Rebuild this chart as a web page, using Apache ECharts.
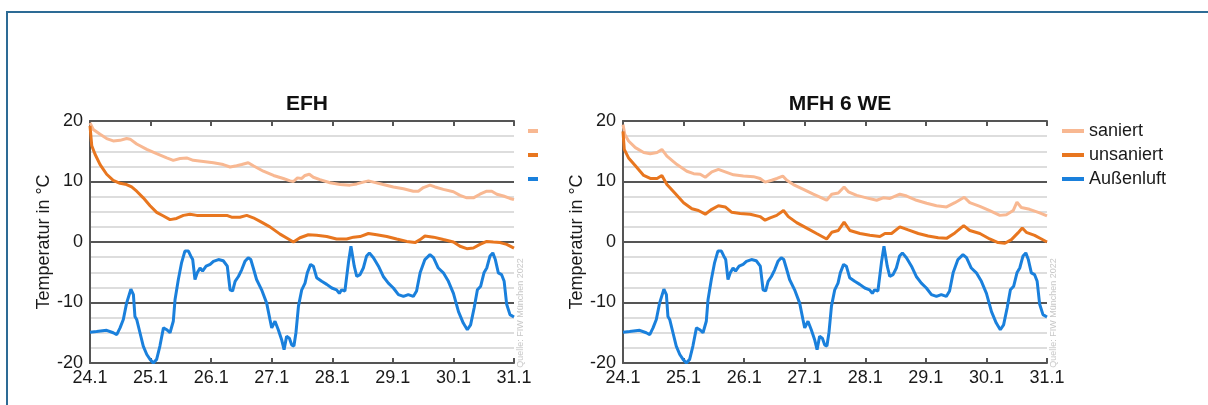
<!DOCTYPE html>
<html>
<head>
<meta charset="utf-8">
<script src="https://cdn.jsdelivr.net/npm/echarts@6/dist/echarts.min.js"></script>
<style>
  html, body { margin: 0; padding: 0; background: #fff; }
  #chart { width: 1208px; height: 405px; }
</style>
</head>
<body>
<div id="chart"></div>
<script>
// x values are hours since 24.1 00:00, y values are temperatures in °C
const dayLabels = ['24.1', '25.1', '26.1', '27.1', '28.1', '29.1', '30.1', '31.1'];
const yTicks = [-20, -10, 0, 10, 20];
const seriesNames = ['saniert', 'unsaniert', 'Außenluft'];
const panelTitles = ['EFH', 'MFH 6 WE'];

// outdoor air (same for both building types)
const aussenluft = [
  [0,-14.9],[2.6,-14.8],[6.6,-14.6],[9.2,-15.0],[10.6,-15.3],[11.9,-14.2],[13.2,-12.8],[14.5,-10.1],
  [16.2,-7.8],[17.2,-8.7],[17.8,-12.3],[18.5,-12.8],[19.8,-15.0],[21.1,-17.2],[22.5,-18.6],[23.8,-19.4],
  [25.1,-20.0],[26.4,-19.4],[27.7,-17.2],[29.1,-14.2],[30.4,-14.5],[31.7,-15.0],[33.0,-13.1],[33.7,-9.5],
  [35.0,-6.2],[36.3,-3.4],[37.6,-1.5],[39.0,-1.5],[39.9,-2.3],[40.7,-2.9],[41.6,-6.2],[42.5,-5.1],
  [43.6,-4.3],[44.6,-4.8],[46.0,-4.0],[47.6,-3.7],[48.9,-3.2],[50.9,-2.9],[52.8,-3.1],[54.4,-4.0],
  [55.5,-7.9],[56.5,-8.1],[57.5,-6.5],[58.8,-5.7],[60.1,-4.6],[61.4,-3.2],[62.7,-2.6],[63.7,-2.9],
  [64.7,-4.3],[66.0,-6.2],[68.0,-7.9],[70.0,-10.1],[71.3,-12.8],[72.0,-14.2],[73.3,-13.1],[74.6,-14.5],
  [75.9,-16.1],[76.9,-17.8],[77.9,-15.6],[79.0,-15.9],[79.9,-17.0],[80.8,-17.2],[81.6,-15.0],[82.6,-10.6],
  [83.9,-7.9],[85.2,-6.8],[86.1,-5.1],[87.4,-3.7],[88.5,-4.0],[89.8,-5.9],[91.8,-6.5],[93.8,-7.0],
  [95.8,-7.6],[97.7,-7.9],[98.8,-8.5],[99.7,-7.9],[101.0,-8.1],[102.4,-3.4],[103.4,-0.7],[104.0,-0.4],
  [104.7,-4.0],[105.7,-5.7],[107.0,-5.4],[108.3,-4.3],[109.6,-2.3],[110.7,-1.8],[112.3,-2.6],[114.3,-4.0],
  [116.2,-5.7],[118.2,-6.8],[120.2,-7.6],[122.2,-8.7],[124.2,-9.0],[126.1,-8.7],[128.1,-9.0],[129.4,-8.1],
  [130.8,-5.1],[132.7,-2.9],[134.7,-2.1],[136.1,-2.6],[138.0,-4.3],[140.0,-5.1],[142.0,-6.5],[144.0,-8.5],
  [146.0,-11.5],[147.9,-13.4],[149.5,-14.5],[150.8,-13.7],[152.2,-10.9],[153.5,-7.9],[154.8,-7.3],[156.1,-5.1],
  [157.2,-4.3],[158.5,-2.3],[159.6,-1.8],[160.6,-2.9],[161.8,-5.1],[163.1,-5.4],[164.1,-6.5],[165.1,-10.3],
  [166.4,-12.0],[168.0,-12.4]
];

// EFH: renovated
const efhSaniert = [
  [0,19.7],[1.3,18.6],[4.0,17.8],[6.6,17.1],[9.2,16.7],[11.9,16.8],[14.5,17.1],[15.9,17.0],
  [18.5,16.2],[22.5,15.3],[26.4,14.6],[30.4,13.9],[33.0,13.5],[35.7,13.8],[38.3,13.9],[40.9,13.5],
  [44.9,13.3],[48.9,13.1],[52.8,12.8],[55.5,12.4],[58.1,12.6],[60.1,12.8],[62.7,13.1],[64.7,12.6],
  [68.7,11.7],[72.7,11.0],[76.6,10.5],[79.3,10.1],[80.6,10.0],[82.2,10.6],[83.9,10.5],[85.2,11.0],
  [86.9,11.2],[88.5,10.7],[91.1,10.3],[95.1,9.8],[99.1,9.5],[103.0,9.4],[105.7,9.6],[108.3,9.9],
  [110.3,10.1],[112.3,9.9],[116.2,9.5],[120.2,9.1],[124.2,8.8],[128.1,8.4],[130.1,8.4],[132.1,9.0],
  [134.7,9.4],[136.7,9.1],[140.0,8.7],[144.0,8.3],[146.6,7.7],[149.3,7.3],[151.9,7.3],[154.5,7.9],
  [157.2,8.4],[159.2,8.4],[161.2,7.9],[163.8,7.6],[166.4,7.2],[168.0,7.0]
];

// EFH: not renovated
const efhUnsaniert = [
  [0,19.2],[0.7,15.9],[2.0,14.5],[4.0,12.8],[6.6,11.2],[9.2,10.2],[11.9,9.7],[14.5,9.5],
  [16.5,9.1],[18.5,8.4],[21.1,7.3],[23.8,6.0],[26.4,4.9],[29.1,4.3],[31.7,3.7],[34.3,3.9],
  [37.0,4.4],[39.6,4.6],[42.3,4.4],[46.2,4.4],[50.2,4.4],[54.2,4.4],[56.1,4.1],[59.4,4.1],
  [62.1,4.4],[64.7,4.0],[67.4,3.4],[71.3,2.5],[75.3,1.3],[78.6,0.5],[80.6,0.0],[83.2,0.7],
  [86.5,1.2],[89.8,1.1],[93.8,0.9],[97.7,0.5],[101.7,0.5],[104.4,0.8],[107.0,0.9],[110.3,1.4],
  [113.6,1.2],[117.6,0.9],[121.5,0.5],[125.5,0.1],[128.8,-0.1],[130.8,0.4],[132.7,1.0],[136.1,0.8],
  [140.0,0.4],[144.0,0.0],[146.6,-0.7],[149.3,-1.1],[151.9,-1.0],[154.5,-0.4],[157.2,0.1],[159.8,0.0],
  [162.5,-0.1],[165.1,-0.4],[168.0,-1.0]
];

// MFH 6 WE: renovated
const mfhSaniert = [
  [0,19.4],[0.7,17.8],[2.2,16.7],[4.9,15.6],[8.2,14.8],[10.8,14.6],[13.5,14.8],[15.4,15.3],
  [17.4,14.2],[21.4,12.8],[25.3,11.7],[28.0,11.3],[30.6,11.2],[32.6,10.7],[35.2,11.6],[37.8,12.0],
  [40.5,11.6],[43.8,11.1],[47.7,10.9],[51.7,10.8],[54.3,10.5],[56.3,9.9],[58.9,10.2],[61.0,10.5],
  [63.3,10.9],[64.9,10.2],[67.5,9.5],[71.5,8.7],[75.4,7.9],[78.7,7.3],[80.7,6.9],[82.7,7.9],
  [85.3,8.1],[87.6,9.1],[89.3,8.3],[92.6,7.7],[96.5,7.3],[100.5,6.9],[103.1,7.3],[105.8,7.2],
  [109.7,7.9],[112.4,7.6],[116.3,6.9],[120.3,6.4],[124.2,6.0],[128.2,5.8],[131.5,6.5],[135.2,7.4],
  [137.4,6.5],[141.4,5.9],[145.3,5.2],[149.3,4.4],[151.9,4.5],[154.6,5.2],[156.1,6.6],[157.8,5.7],
  [161.1,5.4],[165.1,4.8],[168.0,4.3]
];

// MFH 6 WE: not renovated
const mfhUnsaniert = [
  [0,18.3],[0.5,15.3],[2.2,13.9],[4.9,12.6],[8.2,11.0],[10.8,10.5],[13.5,10.5],[15.4,11.0],
  [17.4,9.5],[20.7,8.0],[24.0,6.5],[27.3,5.5],[29.9,5.2],[32.6,4.6],[35.2,5.4],[37.8,6.0],
  [40.5,5.8],[43.1,4.9],[46.4,4.7],[50.4,4.6],[54.3,4.2],[56.3,3.6],[58.3,4.0],[60.9,4.4],
  [63.6,5.2],[65.5,4.2],[68.8,3.2],[72.8,2.3],[76.7,1.4],[80.7,0.5],[82.7,1.6],[85.3,1.9],
  [87.6,3.3],[89.9,1.9],[93.9,1.4],[97.8,1.1],[101.8,0.9],[103.8,1.4],[106.4,1.4],[109.7,2.5],
  [113.0,2.0],[117.0,1.4],[120.9,1.0],[124.9,0.7],[128.2,0.6],[131.5,1.5],[135.0,2.7],[137.4,1.9],
  [141.4,1.4],[145.3,0.5],[148.6,-0.1],[151.3,-0.2],[153.9,0.4],[156.5,1.5],[158.2,2.3],[159.8,1.6],
  [163.1,1.1],[165.8,0.5],[168.0,0.0]
];

const colors = ['#f8b892', '#e8761f', '#1a80dc'];
const axisDark = '#555555';
const panelLefts = [90, 623];
const plotWidth = 424;
const plotTop = 121;
const plotHeight = 242;

const chart = echarts.init(document.getElementById('chart'), null, { renderer: 'canvas' });

const grids = [], xAxes = [], yAxes = [], series = [], titles = [], graphics = [];

panelLefts.forEach((left, i) => {
  grids.push({ left: left, top: plotTop, width: plotWidth, height: plotHeight });

  // bottom axis with day labels
  xAxes.push({
    type: 'value', gridIndex: i, position: 'bottom', min: 0, max: 168, interval: 24,
    axisLine: { show: true, onZero: false, lineStyle: { color: axisDark, width: 2 } },
    axisTick: { show: true, inside: true, length: 5, lineStyle: { color: axisDark, width: 2 } },
    axisLabel: {
      margin: 6, color: '#1a1a1a', fontSize: 18, fontFamily: 'Liberation Sans, Arial, sans-serif',
      formatter: v => dayLabels[Math.round(v / 24)]
    },
    splitLine: { show: false }
  });
  // top frame axis with inward ticks
  xAxes.push({
    type: 'value', gridIndex: i, position: 'top', min: 0, max: 168, interval: 24,
    axisLine: { show: true, onZero: false, lineStyle: { color: axisDark, width: 2 } },
    axisTick: { show: true, inside: true, length: 5, lineStyle: { color: axisDark, width: 2 } },
    axisLabel: { show: false },
    splitLine: { show: false }
  });

  yAxes.push({
    type: 'value', gridIndex: i, min: yTicks[0], max: yTicks[yTicks.length - 1], interval: 10,
    name: 'Temperatur in °C', nameLocation: 'middle', nameGap: 37,
    nameTextStyle: { fontSize: 18, color: '#1a1a1a', fontFamily: 'Liberation Sans, Arial, sans-serif' },
    axisLine: { show: true, lineStyle: { color: axisDark, width: 2 } },
    axisTick: { show: false },
    axisLabel: { margin: 7, color: '#1a1a1a', fontSize: 18, fontFamily: 'Liberation Sans, Arial, sans-serif' },
    splitLine: { show: true, lineStyle: { color: axisDark, width: 2 } },
    minorTick: { show: false, splitNumber: 4 },
    minorSplitLine: { show: true, lineStyle: { color: '#d2d2d2', width: 1.5 } }
  });

  const data = i === 0 ? [efhSaniert, efhUnsaniert, aussenluft] : [mfhSaniert, mfhUnsaniert, aussenluft];
  data.forEach((d, k) => {
    series.push({
      name: seriesNames[k], type: 'line', xAxisIndex: i * 2, yAxisIndex: i,
      data: d, showSymbol: false, smooth: false, animation: false,
      lineStyle: { color: colors[k], width: 3 }, itemStyle: { color: colors[k] },
      z: 3 + k
    });
  });

  titles.push({
    text: panelTitles[i], left: left + plotWidth / 2, top: 89, textAlign: 'center',
    textStyle: { fontSize: 21, fontWeight: 'bold', color: '#111', fontFamily: 'Liberation Sans, Arial, sans-serif' }
  });

  graphics.push({
    type: 'text', x: left + plotWidth + 7, y: 313, rotation: Math.PI / 2,
    style: {
      text: 'Quelle: FIW München 2022', fill: '#c8c8c8', fontSize: 9,
      fontFamily: 'Liberation Sans, Arial, sans-serif', align: 'center', verticalAlign: 'middle'
    }
  });
});

// outer frame
graphics.push({
  type: 'rect', shape: { x: 7, y: 12, width: 1300, height: 500 },
  style: { fill: 'none', stroke: '#2d6b95', lineWidth: 2 }, silent: true
});

const option = {
  backgroundColor: '#ffffff',
  animation: false,
  color: colors,
  title: titles,
  grid: grids,
  xAxis: xAxes,
  yAxis: yAxes,
  legend: [
    {
      left: 523, top: 124, orient: 'vertical', icon: 'rect', itemWidth: 10, itemHeight: 4,
      itemGap: 20, data: seriesNames, formatter: () => '', selectedMode: false,
      textStyle: { fontSize: 1, lineHeight: 1 }
    },
    {
      left: 1057, top: 116, orient: 'vertical', icon: 'rect', itemWidth: 22, itemHeight: 4,
      itemGap: 4, data: seriesNames, selectedMode: false,
      textStyle: { fontSize: 18, lineHeight: 20, color: '#1a1a1a', fontFamily: 'Liberation Sans, Arial, sans-serif' }
    }
  ],
  graphic: graphics,
  series: series
};

chart.setOption(option);
</script>
</body>
</html>
